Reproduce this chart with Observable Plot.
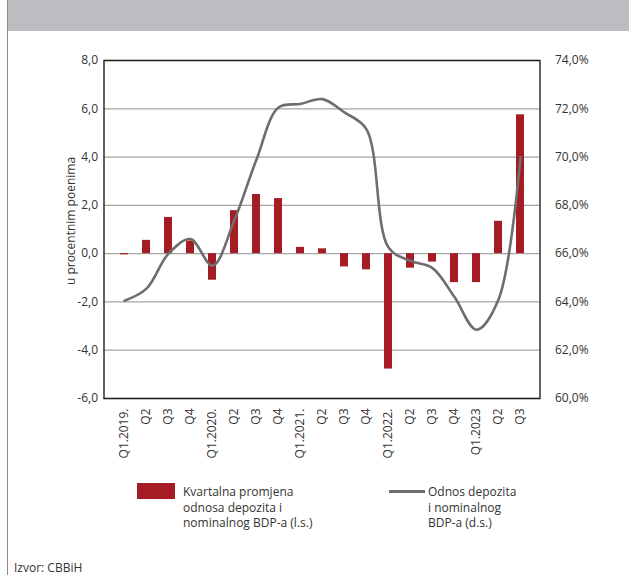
<!DOCTYPE html>
<html>
<head>
<meta charset="utf-8">
<script src="https://cdn.jsdelivr.net/npm/d3@7"></script>
<script src="https://cdn.jsdelivr.net/npm/@observablehq/plot@0.6"></script>
<style>
  html, body { margin: 0; padding: 0; background: #fff; }
  #wrap { position: relative; width: 629px; height: 575px; overflow: hidden; font-family: "Open Sans", sans-serif; color: #333; }
  #chart { position: absolute; left: 0; top: 0; }
  #band { position: absolute; left: 8px; top: 0; width: 621px; height: 31px; background: #bcbdc1; }
  #vline { position: absolute; left: 7px; top: 0; width: 1px; height: 575px; background: #8a8a8a; }
  .lg { position: absolute; font-size: 12px; line-height: 15.5px; color: #333; }
  #src { position: absolute; left: 14px; top: 559px; font-size: 12px; color: #333; }
  #ylab { position: absolute; left: 70px; top: 221px; font-size: 12px; color: #333; white-space: nowrap;
          transform: translate(-50%, -50%) rotate(-90deg); }
</style>
</head>
<body>
<div id="wrap">
  <div id="chart"></div>
  <div id="band"></div>
  <div id="vline"></div>
  <div id="ylab"></div>
  <div style="position:absolute;left:137px;top:483px;width:38px;height:16px;background:#a51c24;"></div>
  <div class="lg" style="left:183px;top:484px;">Kvartalna promjena<br>odnosa depozita i<br>nominalnog BDP-a (l.s.)</div>
  <div style="position:absolute;left:389px;top:490px;width:36px;height:2.5px;background:#6e6e6e;"></div>
  <div class="lg" style="left:428px;top:484px;">Odnos depozita<br>i nominalnog<br>BDP-a (d.s.)</div>
  <div id="src">Izvor: CBBiH</div>
</div>
<script>
const quarters = ["2019Q1","2019Q2","2019Q3","2019Q4","2020Q1","2020Q2","2020Q3","2020Q4","2021Q1","2021Q2","2021Q3","2021Q4","2022Q1","2022Q2","2022Q3","2022Q4","2023Q1","2023Q2","2023Q3"];
const quarterLabels = ["Q1.2019.","Q2","Q3","Q4","Q1.2020.","Q2","Q3","Q4","Q1.2021.","Q2","Q3","Q4","Q1.2022.","Q2","Q3","Q4","Q1.2023","Q2","Q3"];
const quarterlyChange = [-0.05,0.55,1.5,0.52,-1.1,1.78,2.45,2.28,0.26,0.2,-0.55,-0.67,-4.78,-0.6,-0.35,-1.2,-1.2,1.34,5.75];
const depositRatio = [64.05,64.55,66.0,66.6,65.5,67.4,69.9,72.05,72.2,72.4,71.85,71.15,66.25,65.7,65.4,64.2,62.85,64.1,70.0];
const leftTicks = [-6,-4,-2,0,2,4,6,8];
const rightTicks = [60,62,64,66,68,70,72,74];
const yLabel = "u procentnim poenima";

document.getElementById("ylab").textContent = yLabel;

const offset = 66; // right axis value = left axis value + 66
const labelOf = new Map(quarters.map((q, i) => [q, quarterLabels[i]]));
const bars = quarters.map((q, i) => ({q, v: quarterlyChange[i]}));
const line = quarters.map((q, i) => ({q, v: depositRatio[i] - offset}));
const comma = d => d.toFixed(1).replace(".", ",");

const plot = Plot.plot({
  width: 629,
  height: 460,
  marginTop: 60,
  marginBottom: 62,
  marginLeft: 103.5,
  marginRight: 89.5,
  style: {fontFamily: "'Open Sans', sans-serif", fontSize: "12px", color: "#333", background: "transparent"},
  x: {type: "band", domain: quarters, padding: 0.65, label: null},
  y: {domain: [-6, 8], label: null},
  marks: [
    Plot.ruleY(leftTicks, {stroke: "#a3a3a3", strokeWidth: 1.3}),
    Plot.barY(bars, {x: "q", y: "v", fill: "#a51c24"}),
    Plot.line(line, {x: "q", y: "v", stroke: "#6e6e6e", strokeWidth: 2.6, curve: "catmull-rom"}),
    Plot.frame({stroke: "#222", strokeWidth: 1.4}),
    Plot.axisY({anchor: "left", ticks: leftTicks, tickSize: 0, tickPadding: 6, tickFormat: comma, label: null, fontSize: 12}),
    Plot.axisY({anchor: "right", ticks: rightTicks.map(t => t - offset), tickSize: 0, tickPadding: 15, textAnchor: "start",
      tickFormat: d => comma(d + offset) + "%", label: null, fontSize: 12}),
    Plot.axisX({anchor: "bottom", tickSize: 0, tickPadding: 10, tickRotate: -90,
      tickFormat: q => labelOf.get(q), label: null, fontSize: 12})
  ]
});
document.getElementById("chart").appendChild(plot);
</script>
</body>
</html>
